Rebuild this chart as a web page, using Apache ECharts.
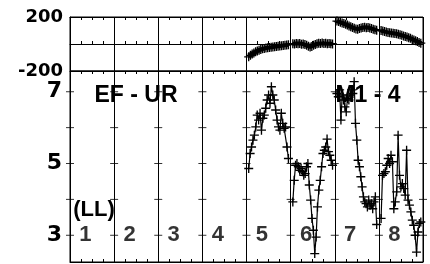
<!DOCTYPE html>
<html>
<head>
<meta charset="utf-8">
<script src="https://cdn.jsdelivr.net/npm/echarts@6/dist/echarts.min.js"></script>
<style>
html, body { margin: 0; padding: 0; background: #fff; }
#chart { width: 430px; height: 264px; }
</style>
</head>
<body>
<div id="chart"></div>
<script>
// segment names along x
var segNames = ['1', '2', '3', '4', '5', '6', '7', '8']

// upper panel, segments 5..8
var top5 = [-95, -84, -74, -66, -58, -51, -46, -41, -36, -33, -30, -27, -26, -24, -22, -21, -19, -17, -15, -13, -11, -9, -7, -5]
var top6 = [2, 0, 4, 1, 3, -2, 0, -4, -10, -16, -22, -18, -10, -4, 2, 6, 4, 8, 3, 5, 1, 4, 2, 0]
var top7 = [170, 166, 161, 156, 151, 146, 140, 134, 128, 122, 116, 112, 110, 114, 118, 122, 124, 120, 122, 118, 114, 110, 106, 102]
var top8 = [100, 96, 92, 88, 86, 84, 82, 80, 78, 76, 72, 68, 64, 60, 56, 52, 47, 42, 36, 30, 24, 18, 12, 6]

// lower panel, segments 5..8
var bot5 = [4.86, 5.28, 5.46, 5.65, 5.79, 6.02, 6.35, 6.21, 6.40, 5.93, 6.26, 6.35, 6.54, 6.77, 6.91, 6.68, 7.14, 6.91, 6.77, 6.49, 6.21, 6.02, 5.93, 6.40, 6.12, 5.98, 6.02, 5.46, 5.14]
var bot6 = [3.93, 4.53, 4.95, 5.00, 4.91, 4.81, 4.86, 4.77, 4.67, 4.72, 4.91, 5.00, 4.40, 3.98, 3.47, 3.14, 2.49, 2.95, 3.79, 4.26, 4.53, 4.91, 5.28, 5.37, 5.46, 5.68, 5.33, 5.23, 5.09, 4.95]
var bot7 = [6.95, 6.86, 7.05, 6.21, 6.91, 6.77, 6.58, 6.44, 6.81, 6.77, 6.91, 7.05, 6.95, 7.28, 6.12, 5.65, 5.09, 4.91, 4.63, 4.35, 4.07, 3.93, 3.88, 3.79, 3.98, 3.84, 3.88, 3.74, 3.93, 4.07, 3.30]
var bot8 = [3.47, 4.67, 4.72, 4.77, 4.95, 5.14, 5.00, 5.23, 5.05, 3.74, 3.93, 4.21, 5.79, 4.67, 4.35, 4.44, 4.30, 4.12, 5.37, 3.98, 3.84, 3.65, 3.42, 3.28, 3.00, 2.53, 3.09, 3.33, 3.37]

var lowTicks = [3, 4, 5, 6, 7]
var lowLabels = [3, 5, 7]

var PLUS = 'path://M0,3.4H8V4.6H0Z M3.4,0H4.6V8H3.4Z'

// spread samples evenly over a segment (seg is 1-based)
function spread(seg, vals) {
  var out = []
  for (var i = 0; i < vals.length; i++) {
    out.push([seg - 1 + 0.05 + 0.9 * i / (vals.length - 1), vals[i]])
  }
  return out
}

function xAx(grid, pos, split) {
  return {
    type: 'value', gridIndex: grid, position: pos, min: 0, max: 8, interval: 1,
    axisLine: { show: true, lineStyle: { color: '#000', width: 1 } },
    axisTick: { show: false, inside: true, length: 3 },
    minorTick: { show: true, splitNumber: 4, length: 3, lineStyle: { color: '#000', width: 1 } },
    axisLabel: { show: false },
    splitLine: { show: split, lineStyle: { color: '#000', width: 1 } }
  }
}

function lineSeries(data, xi, yi, size, lw) {
  return {
    type: 'line', xAxisIndex: xi, yAxisIndex: yi, data: data,
    symbol: PLUS, symbolSize: size, showAllSymbol: true,
    lineStyle: { color: '#000', width: lw },
    itemStyle: { color: '#000' },
    z: 3
  }
}

var tickMarks = []
for (var k = 0; k <= 8; k++) {
  lowTicks.forEach(function(v) { tickMarks.push([k, v]) })
}

var chart = echarts.init(document.getElementById('chart'))
chart.setOption({
  animation: false,
  grid: [
    { left: 70, right: 7, top: 17, height: 54, show: true, borderColor: '#000', borderWidth: 1 },
    { left: 70, right: 7, top: 71, height: 191, show: true, borderColor: '#000', borderWidth: 1 }
  ],
  xAxis: [
    xAx(0, 'bottom', true),
    xAx(0, 'top', false),
    xAx(1, 'bottom', true),
    xAx(1, 'top', false)
  ],
  yAxis: [
    {
      type: 'value', gridIndex: 0, min: -200, max: 200, interval: 200,
      axisLine: { show: true, lineStyle: { color: '#000' } },
      axisTick: { show: false },
      axisLabel: {
        margin: 7, color: '#000', fontFamily: 'DejaVu Sans', fontWeight: 'bold', fontSize: 18,
        formatter: function(v) { return v === 0 ? '' : v }
      },
      splitLine: { show: true, lineStyle: { color: '#000', width: 1 } }
    },
    {
      type: 'value', gridIndex: 1, min: 2.255, max: 7.578,
      axisLine: { show: true, lineStyle: { color: '#000' } },
      axisTick: { show: false },
      axisLabel: {
        margin: 8, color: '#000', fontFamily: 'DejaVu Sans', fontWeight: 'bold', fontSize: 22,
        customValues: lowLabels
      },
      splitLine: { show: false }
    }
  ],
  graphic: [
    { type: 'text', x: 136, y: 96, z: 0, style: { text: 'EF - UR', font: 'bold 23px "Liberation Sans"', align: 'center', verticalAlign: 'middle', fill: '#000' } },
    { type: 'text', x: 368, y: 96, z: 0, style: { text: 'M1 - 4', font: 'bold 23px "Liberation Sans"', align: 'center', verticalAlign: 'middle', fill: '#000' } },
    { type: 'text', x: 94, y: 210, z: 0, style: { text: '(LL)', font: 'bold 22px "Liberation Sans"', align: 'center', verticalAlign: 'middle', fill: '#000' } }
  ],
  series: [
    lineSeries(spread(5, top5), 0, 0, 9, 4),
    lineSeries(spread(6, top6), 0, 0, 9, 4),
    lineSeries(spread(7, top7), 0, 0, 9, 4),
    lineSeries(spread(8, top8), 0, 0, 9, 4),
    lineSeries(spread(5, bot5), 2, 1, 9, 1.2),
    lineSeries(spread(6, bot6), 2, 1, 9, 1.2),
    lineSeries(spread(7, bot7), 2, 1, 9, 1.2),
    lineSeries(spread(8, bot8), 2, 1, 9, 1.2),
    {
      // tick crosses on every segment boundary
      type: 'scatter', xAxisIndex: 2, yAxisIndex: 1, data: tickMarks,
      symbol: 'rect', symbolSize: [8, 1], itemStyle: { color: '#000' }, silent: true, z: 2
    },
    {
      type: 'scatter', xAxisIndex: 2, yAxisIndex: 1, symbolSize: 0, silent: true, z: 1,
      data: segNames.map(function(n, i) { return { name: n, value: [i + 0.35, 3] } }),
      label: {
        show: true, position: 'inside', formatter: '{b}', color: '#000',
        fontFamily: 'Liberation Sans', fontWeight: 'bold', fontSize: 22
      }
    }
  ]
})
</script>
</body>
</html>
